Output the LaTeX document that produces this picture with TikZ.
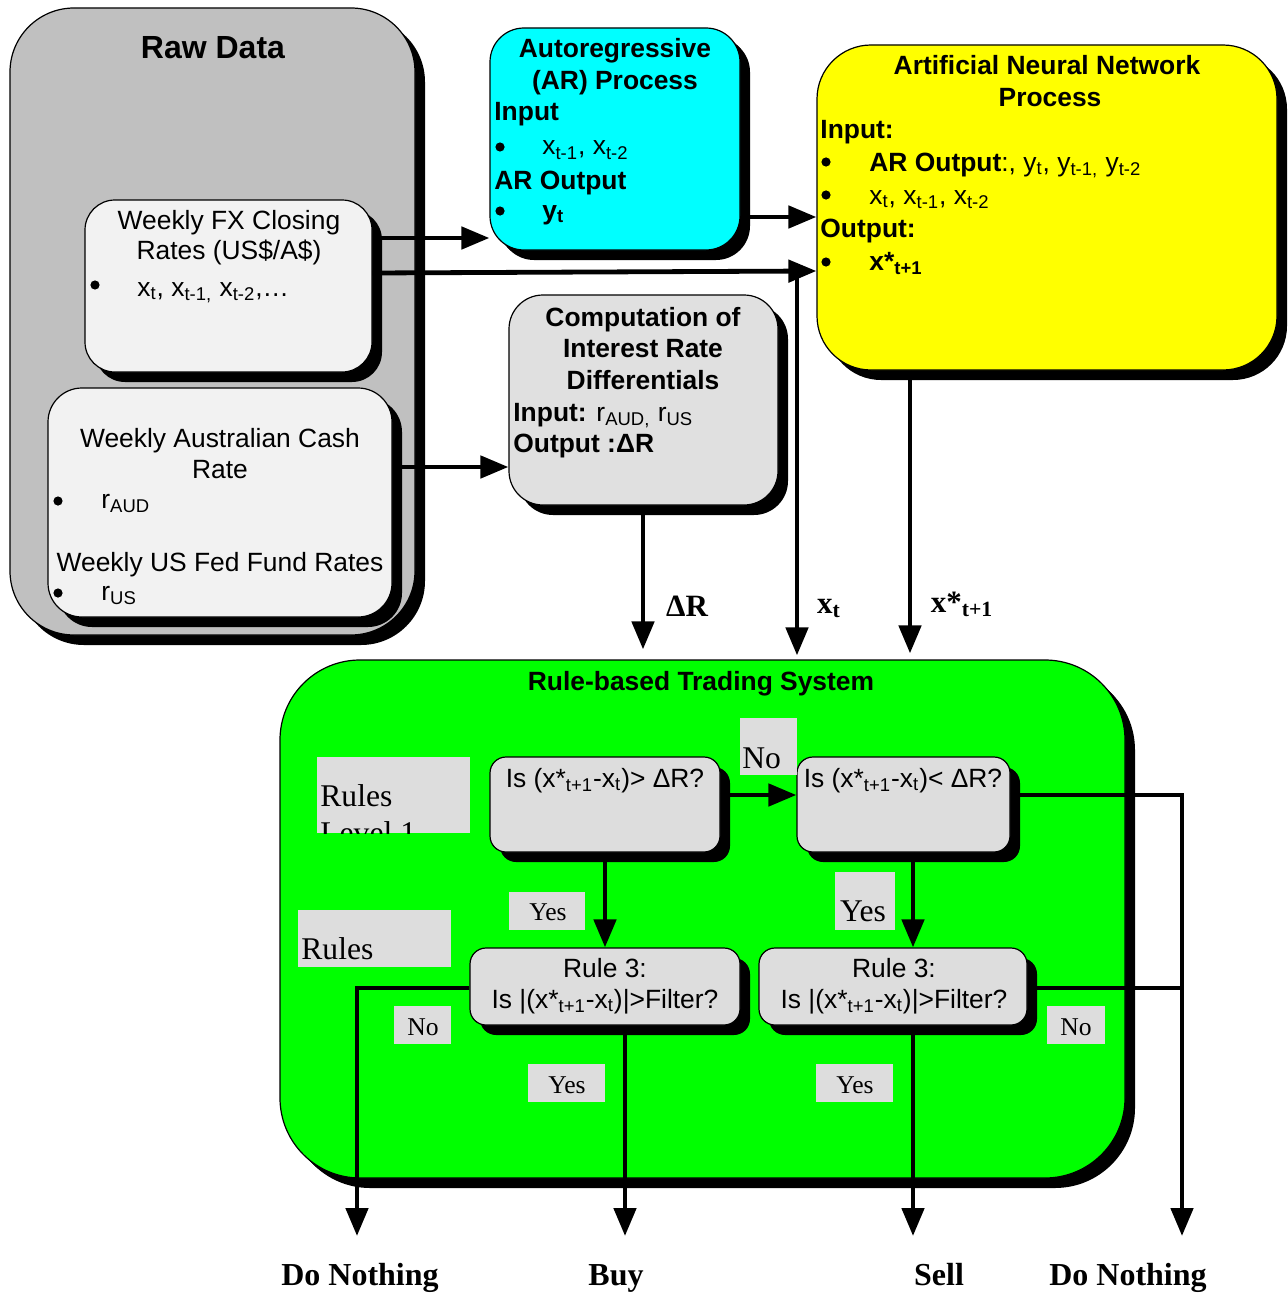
\documentclass[tikz,border=0pt]{standalone}
\usepackage{fontspec}
\setmainfont{Liberation Sans}
\newfontfamily\tms{Liberation Serif}
\usetikzlibrary{arrows.meta,shadows}

\definecolor{rawgray}{HTML}{C0C0C0}
\definecolor{pale}{HTML}{F2F2F2}
\definecolor{boxgray}{HTML}{E0E0E0}
\definecolor{lblgray}{HTML}{DDDDDD}
\definecolor{arcyan}{HTML}{00FFFF}
\definecolor{annyellow}{HTML}{FFFF00}
\definecolor{rulegreen}{HTML}{00FF00}

\newcommand\dn[1]{\textsubscript{#1}}

\begin{document}
\begin{tikzpicture}[x=0.5pt,y=-0.5pt,
  box/.style={draw=black, line width=0.6pt, inner sep=0pt,
    drop shadow={shadow xshift=5pt, shadow yshift=-5pt, fill=black, opacity=1}},
  lbl/.style={fill=lblgray, inner sep=0pt},
  txt/.style={inner sep=0pt, anchor=base, font=\fontsize{13.2}{15}\selectfont},
  txtb/.style={txt, font=\fontsize{13.2}{15}\selectfont\bfseries},
  wtxt/.style={txt, anchor=base west},
  wtxtb/.style={txtb, anchor=base west},
  bul/.style={circle, fill=black, inner sep=0pt, minimum size=4.6pt},
  ser/.style={inner sep=0pt, anchor=base, font=\tms\fontsize{15.8}{18}\selectfont},
  sersm/.style={inner sep=0pt, anchor=base, font=\tms\fontsize{12.8}{15}\selectfont},
  serb/.style={inner sep=0pt, anchor=base, font=\tms\fontsize{16}{18}\selectfont\bfseries},
  link/.style={line width=2.4pt},
  arr/.style={line width=2.4pt, -{Triangle[length=14pt,width=11pt]}}]

\useasboundingbox (0,0) rectangle (1287,1295);

% ---------- Raw data panel ----------
\node[box, fill=rawgray, rounded corners=32pt, minimum width=202.5pt, minimum height=313.5pt]
  (raw) at (212.5,321.5) {};
\node[txtb, font=\fontsize{16}{18}\selectfont\bfseries] (rawT) at (213,59) {Raw Data};

\node[box, fill=pale, rounded corners=15pt, minimum width=143.5pt, minimum height=86pt]
  (fx) at (228.5,286) {};
\node[txt] (fx1) at (229,229) {Weekly FX Closing};
\node[txt] (fx2) at (229,259) {Rates (US\$/A\$)};
\node[bul] (fxb) at (95,285) {};
\node[wtxt] (fx3) at (137,296) {x\dn{t}, x\dn{t-1,} x\dn{t-2},…};

\node[box, fill=pale, rounded corners=17pt, minimum width=172pt, minimum height=114.5pt]
  (cash) at (220,502.5) {};
\node[txt] (ca1) at (220,447) {Weekly Australian Cash};
\node[txt] (ca2) at (220,478) {Rate};
\node[bul] (cab1) at (58,501) {};
\node[wtxt] (ca3) at (101,508) {r\dn{AUD}};
\node[txt] (ca4) at (220,571) {Weekly US Fed Fund Rates};
\node[bul] (cab2) at (58,593) {};
\node[wtxt] (ca5) at (101,600) {r\dn{US}};

% ---------- AR process ----------
\node[box, fill=arcyan, rounded corners=17pt, minimum width=125pt, minimum height=111pt,
  drop shadow={shadow xshift=4pt, shadow yshift=-4pt, fill=black, opacity=1}]
  (ar) at (615,139) {};
\node[txtb] (ar1) at (615,58) {Autoregressive};
\node[txtb] (ar2) at (615,90) {(AR) Process};
\node[wtxtb] (ar3) at (494,120) {Input};
\node[bul] (arb1) at (500,147) {};
\node[wtxt] (ar4) at (542,155) {x\dn{t-1}, x\dn{t-2}};
\node[wtxtb] (ar5) at (494,189) {AR Output};
\node[bul] (arb2) at (500,211) {};
\node[wtxtb] (ar6) at (542,219) {y\dn{t}};

% ---------- ANN process ----------
\node[box, fill=annyellow, rounded corners=27pt, minimum width=230pt, minimum height=162.5pt]
  (ann) at (1047,207.5) {};
\node[txtb] (an1) at (1047,75) {Artificial Neural Network};
\node[txtb] (an2) at (1050,106) {Process};
\node[wtxtb] (an3) at (820,139) {Input:};
\node[bul] (anb1) at (826,162) {};
\node[wtxt] (an4) at (869,171) {\textbf{AR Output}:, y\dn{t}, y\dn{t-1,} y\dn{t-2}};
\node[bul] (anb2) at (826,195) {};
\node[wtxt] (an5) at (869,204) {x\dn{t}, x\dn{t-1}, x\dn{t-2}};
\node[wtxtb] (an6) at (820,237) {Output:};
\node[bul] (anb3) at (826,262) {};
\node[wtxtb] (an7) at (869,270) {x*\dn{t+1}};

% ---------- Interest rate differential ----------
\node[box, fill=boxgray, rounded corners=17pt, minimum width=134.5pt, minimum height=105pt]
  (comp) at (643.5,400) {};
\node[txtb] (co1) at (643,326) {Computation of};
\node[txtb] (co2) at (643,357) {Interest Rate};
\node[txtb] (co3) at (643,389) {Differentials};
\node[wtxt] (co4) at (513,421) {\textbf{Input:} r\dn{AUD,} r\dn{US}};
\node[wtxtb] (co5) at (513,452) {Output :ΔR};

% ---------- Trading system ----------
\node[box, fill=rulegreen, rounded corners=40pt, minimum width=422.5pt, minimum height=259pt,
  drop shadow={shadow xshift=4pt, shadow yshift=-4pt, fill=black, opacity=1}]
  (green) at (702.5,919) {};
\node[txtb] (gr1) at (701,690) {Rule-based Trading System};

\node[box, fill=lblgray, rounded corners=8pt, minimum width=115pt, minimum height=47.5pt]
  (d1) at (605,804.5) {};
\node[txt] (d1t) at (605,787) {Is (x*\dn{t+1}-x\dn{t})> ΔR?};
\node[box, fill=lblgray, rounded corners=8pt, minimum width=106.5pt, minimum height=47.5pt]
  (d2) at (903.5,804.5) {};
\node[txt] (d2t) at (903,787) {Is (x*\dn{t+1}-x\dn{t})< ΔR?};
\node[box, fill=lblgray, rounded corners=8pt, minimum width=135pt, minimum height=38.5pt]
  (r3a) at (605,986.5) {};
\node[txt] (r3a1) at (605,977) {Rule 3:};
\node[txt] (r3a2) at (605,1008) {Is |(x*\dn{t+1}-x\dn{t})|>Filter?};
\node[box, fill=lblgray, rounded corners=8pt, minimum width=134pt, minimum height=38.5pt]
  (r3b) at (893,986.5) {};
\node[txt] (r3b1) at (894,977) {Rule 3:};
\node[txt] (r3b2) at (894,1008) {Is |(x*\dn{t+1}-x\dn{t})|>Filter?};

% level tags (the second line is cut off by the tag's lower edge)
\node[lbl, minimum width=76.5pt, minimum height=38pt] (lv1) at (393.5,795) {};
\begin{scope}
  \clip (lv1.north west) rectangle (lv1.south east);
  \node[ser, anchor=base west] (lv1a) at (320,806) {Rules};
  \node[ser, anchor=base west] (lv1b) at (320,843) {Level 1};
\end{scope}
\node[lbl, minimum width=76.5pt, minimum height=28.5pt] (lv2) at (374.5,938.5) {};
\node[ser, anchor=base west] (lv2t) at (301,959) {Rules};

% branch tags
\node[lbl, minimum width=28.5pt, minimum height=28.5pt] (no1) at (768.5,746.5) {};
\node[ser, anchor=base west] (no1t) at (742,768) {No};
\node[lbl, minimum width=38pt, minimum height=19pt] (yes1) at (547,911) {};
\node[sersm] (yes1t) at (548,920) {Yes};
\node[lbl, minimum width=30pt, minimum height=29pt] (yes2) at (865,901) {};
\node[ser] (yes2t) at (863,921) {Yes};
\node[lbl, minimum width=28.5pt, minimum height=19pt] (no2) at (422.5,1025) {};
\node[sersm] (no2t) at (423,1035) {No};
\node[lbl, minimum width=38.5pt, minimum height=19pt] (yes3) at (566.5,1083) {};
\node[sersm] (yes3t) at (567,1093) {Yes};
\node[lbl, minimum width=38.5pt, minimum height=19pt] (yes4) at (854.5,1083) {};
\node[sersm] (yes4t) at (855,1093) {Yes};
\node[lbl, minimum width=29pt, minimum height=19pt] (no3) at (1076,1025) {};
\node[sersm] (no3t) at (1076,1035) {No};

% outcomes
\node[serb] (outL) at (360,1285) {Do Nothing};
\node[serb] (outBuy) at (616,1285) {Buy};
\node[serb] (outSell) at (939,1285) {Sell};
\node[serb] (outR) at (1128,1285) {Do Nothing};

\coordinate (endL) at (357,1236);
\coordinate (endBuy) at (625,1236);
\coordinate (endSell) at (913,1236);
\coordinate (endR) at (1182,1236);
\coordinate (xt) at (797,272);
\coordinate (joinR) at (1182,988);

% ---------- data flow ----------
\draw[arr] (fx.east |- 0,238) -- (ar.west |- 0,238);
\draw[arr] (fx.east |- 0,273) -- (ann.west |- 0,271);
\draw[arr] (ar.east |- 0,217) -- (ann.west |- 0,217);
\draw[arr] (cash.east |- 0,467) -- (comp.west |- 0,467);
\draw[arr] (643,0 |- comp.south) -- ([yshift=5pt]643,0 |- green.north);
\draw[arr] (xt) -- ([yshift=2pt]xt |- green.north);
\draw[arr] (910,0 |- ann.south) -- ([yshift=3pt]910,0 |- green.north);

\node[serb, font=\tms\fontsize{15.5}{18}\selectfont\bfseries] (lDR) at (687,616) {ΔR};
\node[serb, font=\tms\fontsize{15.5}{18}\selectfont\bfseries] (lxt) at (829,613) {x\dn{t}};
\node[serb, font=\tms\fontsize{15.5}{18}\selectfont\bfseries] (lxs) at (962,612) {x*\dn{t+1}};

% ---------- decision flow ----------
\draw[arr] (d1.east |- 0,795) -- (d2.west |- 0,795);
\draw[arr] (d1.south) -- (r3a.north);
\draw[arr] (913,0 |- d2.south) -- (913,0 |- r3b.north);
\draw[arr] (d2.east |- 0,795) -| (endR);
\draw[link] (r3b.east |- 0,988) -- (joinR);
\draw[arr] (r3a.west |- 0,988) -| (endL);
\draw[arr] (625,0 |- r3a.south) -- (endBuy);
\draw[arr] (913,0 |- r3b.south) -- (endSell);

\end{tikzpicture}
\end{document}
